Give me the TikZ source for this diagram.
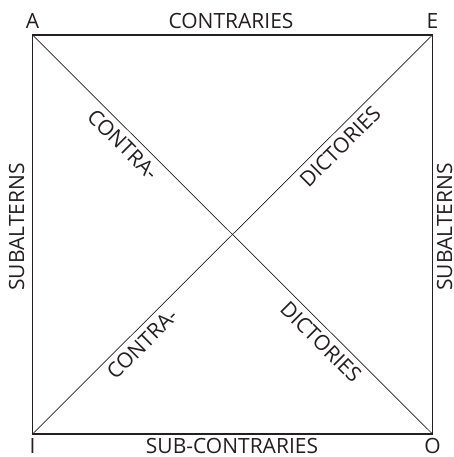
\documentclass[tikz,border=0pt]{standalone}
\usepackage{fontspec}
\setmainfont{Open Sans}
\definecolor{ink}{HTML}{231F20}
\begin{document}
\begin{tikzpicture}[x=1pt,y=1pt,
  lbl/.style={text=ink,font=\fontsize{21}{25}\selectfont,inner sep=0pt},
  frame/.style={draw=ink,line width=1.1pt},
  diag/.style={draw=ink,line width=0.7pt},
  dlbl/.style={lbl,sloped,below,inner sep=5.5pt,pos=#1}]
\useasboundingbox (0,0) rectangle (453,457);
\coordinate (A) at (32.5,422);
\coordinate (E) at (432.5,422);
\coordinate (I) at (32.5,23);
\coordinate (O) at (432.5,23);
\draw[frame] (A) -- (E) -- (O) -- (I) -- cycle;
\draw[diag] (A) -- (O)
  node[dlbl=0.25] (c1) {CONTRA-}
  node[dlbl=0.745] (d2) {DICTORIES};
\draw[diag] (I) -- (E)
  node[dlbl=0.25] (c2) {CONTRA-}
  node[dlbl=0.745] (d1) {DICTORIES};
\node[lbl,anchor=base] (la) at (32.5,428) {A};
\node[lbl,anchor=base] (le) at (432.5,428) {E};
\node[lbl,anchor=base] (li) at (32.5,4) {I};
\node[lbl,anchor=base] (lo) at (432.5,4) {O};
\node[lbl,anchor=base] (top) at (231,428) {CONTRARIES};
\node[lbl,anchor=base] (bot) at (232,4) {SUB-CONTRARIES};
\node[lbl,anchor=base,rotate=90] (left) at (24,230) {SUBALTERNS};
\node[lbl,anchor=base,rotate=90] (right) at (452,230) {SUBALTERNS};
\end{tikzpicture}
\end{document}
